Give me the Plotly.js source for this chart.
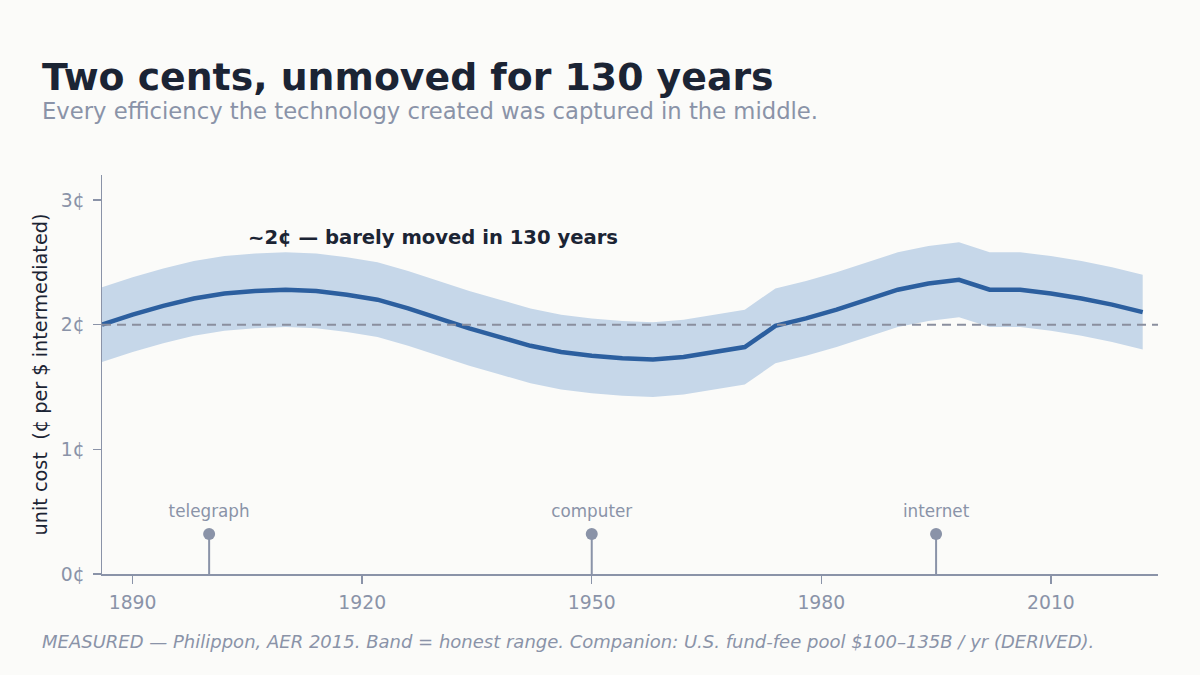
<!DOCTYPE html>
<html>
<head>
<meta charset="utf-8">
<script src="https://cdn.plot.ly/plotly-3.0.1.min.js"></script>
<style>
  html, body { margin: 0; padding: 0; background: #fbfbf9; }
  #chart { width: 1200px; height: 675px; }
</style>
</head>
<body>
<div id="chart"></div>
<script>
// ---- data ----
const years = [1886,1890,1894,1898,1902,1906,1910,1914,1918,1922,1926,1930,1934,1938,1942,1946,1950,1954,1958,1962,1966,1970,1974,1978,1982,1986,1990,1994,1998,2002,2006,2010,2014,2018,2022];
const unitCost = [2.00,2.08,2.15,2.21,2.25,2.27,2.28,2.27,2.24,2.20,2.13,2.05,1.97,1.90,1.83,1.78,1.75,1.73,1.72,1.74,1.78,1.82,1.99,2.05,2.12,2.20,2.28,2.33,2.36,2.28,2.28,2.25,2.21,2.16,2.10];
const bandUpper = [2.30,2.38,2.45,2.51,2.55,2.57,2.58,2.57,2.54,2.50,2.43,2.35,2.27,2.20,2.13,2.08,2.05,2.03,2.02,2.04,2.08,2.12,2.29,2.35,2.42,2.50,2.58,2.63,2.66,2.58,2.58,2.55,2.51,2.46,2.40];
const bandLower = [1.70,1.78,1.85,1.91,1.95,1.97,1.98,1.97,1.94,1.90,1.83,1.75,1.67,1.60,1.53,1.48,1.45,1.43,1.42,1.44,1.48,1.52,1.69,1.75,1.82,1.90,1.98,2.03,2.06,1.98,1.98,1.95,1.91,1.86,1.80];
const referenceLevel = 2;
const techLabels = ["telegraph", "computer", "internet"];
const techYears = [1900, 1950, 1995];
const techMarkerValue = 0.32;
const techLabelValue = 0.49;
const yTickVals = [0, 1, 2, 3];
const yTickText = ["0¢", "1¢", "2¢", "3¢"];
const xTickVals = [1890, 1920, 1950, 1980, 2010];

const FONT = "DejaVu Sans, Verdana, sans-serif";
const DARK = "#1b2434";
const GRAY = "#8a93a8";
const BLUE = "#2c5f9f";
const BAND = "#c6d7e9";

// stems built from the tech arrays
const stemX = [], stemY = [];
techYears.forEach(function (yr) { stemX.push(yr, yr, null); stemY.push(0, techMarkerValue, null); });

const traces = [
  { x: years, y: bandLower, mode: "lines", line: { width: 0, color: BAND }, hoverinfo: "skip", showlegend: false },
  { x: years, y: bandUpper, mode: "lines", line: { width: 0, color: BAND }, fill: "tonexty", fillcolor: BAND, hoverinfo: "skip", showlegend: false },
  { x: stemX, y: stemY, mode: "lines", line: { width: 2, color: GRAY }, hoverinfo: "skip", showlegend: false, cliponaxis: false },
  { x: techYears, y: techYears.map(function () { return techMarkerValue; }), mode: "markers", marker: { size: 12, color: GRAY }, showlegend: false },
  { x: techYears, y: techYears.map(function () { return techLabelValue; }), mode: "text", text: techLabels, textfont: { family: FONT, size: 16.8, color: GRAY }, textposition: "middle center", showlegend: false },
  { x: years, y: unitCost, mode: "lines", line: { width: 4.5, color: BLUE }, showlegend: false }
];

const layout = {
  width: 1200, height: 675,
  paper_bgcolor: "#fbfbf9", plot_bgcolor: "#fbfbf9",
  margin: { l: 102, r: 42, t: 175, b: 101 },
  font: { family: FONT, color: GRAY },
  xaxis: {
    range: [1886, 2024], tickvals: xTickVals, ticks: "outside", ticklen: 8, tickwidth: 1.5, tickcolor: GRAY,
    showline: true, linecolor: GRAY, linewidth: 1.5, showgrid: false, zeroline: false,
    tickfont: { family: FONT, size: 18.8, color: GRAY }, ticklabelstandoff: 3
  },
  yaxis: {
    range: [0, 3.2], tickvals: yTickVals, ticktext: yTickText, ticks: "outside", ticklen: 8, tickwidth: 1.5, tickcolor: GRAY,
    showline: true, linecolor: GRAY, linewidth: 1.5, showgrid: false, zeroline: false,
    tickfont: { family: FONT, size: 18.8, color: GRAY }, ticklabelstandoff: 4
  },
  shapes: [
    { type: "line", xref: "paper", x0: 0, x1: 1, yref: "y", y0: referenceLevel, y1: referenceLevel,
      line: { color: "#8a8f9e", width: 2, dash: "9px,6px" }, layer: "above" }
  ],
  annotations: [
    { xref: "paper", yref: "paper", x: -0.0585, y: 1.2456, xanchor: "left", yanchor: "middle", showarrow: false,
      text: "<b>Two cents, unmoved for 130 years</b>", font: { family: FONT, size: 37.8, color: DARK } },
    { xref: "paper", yref: "paper", x: -0.0585, y: 1.1604, xanchor: "left", yanchor: "middle", showarrow: false,
      text: "Every efficiency the technology created was captured in the middle.", font: { family: FONT, size: 22.7, color: GRAY } },
    { xref: "x", yref: "y", x: 1904.8, y: 2.70, xanchor: "left", yanchor: "middle", showarrow: false,
      text: "<b>~2¢ — barely moved in 130 years</b>", font: { family: FONT, size: 19.6, color: DARK } },
    { xref: "paper", yref: "paper", x: -0.0587, y: 0.5, xanchor: "center", yanchor: "middle", showarrow: false, textangle: -90,
      text: "unit cost  (¢ per $ intermediated)", font: { family: FONT, size: 19.3, color: DARK } },
    { xref: "paper", yref: "paper", x: -0.0585, y: -0.168, xanchor: "left", yanchor: "middle", showarrow: false,
      text: "<i>MEASURED — Philippon, AER 2015. Band = honest range. Companion: U.S. fund-fee pool $100–135B / yr (DERIVED).</i>",
      font: { family: FONT, size: 18, color: GRAY } }
  ]
};

Plotly.newPlot("chart", traces, layout, { displayModeBar: false, staticPlot: true });
</script>
</body>
</html>
